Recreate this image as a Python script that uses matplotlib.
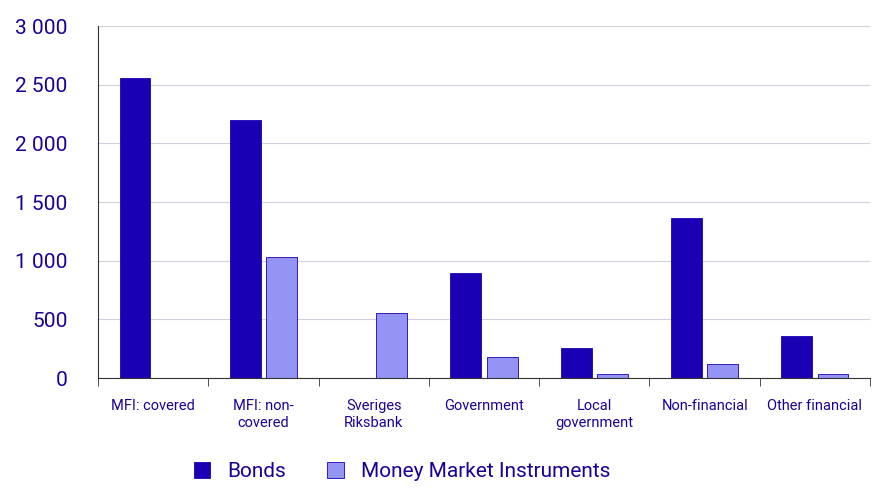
import matplotlib
matplotlib.use("Agg")
import matplotlib.pyplot as plt
import numpy as np

plt.rcParams["font.family"] = "Roboto"

categories = ["MFI: covered", "MFI: non-\ncovered", "Sveriges\nRiksbank", "Government", "Local\ngovernment", "Non-financial", "Other financial"]
bonds = [2560, 2200, 0, 895, 255, 1365, 360]
mmi = [0, 1030, 550, 180, 30, 120, 30]
yticks = [0, 500, 1000, 1500, 2000, 2500, 3000]
ylabels = ["0", "500", "1 000", "1 500", "2 000", "2 500", "3 000"]

dark = "#1a00b4"
light = "#9494f5"
txt = "#1a0096"

fig = plt.figure(figsize=(8.93, 5.0), dpi=100)
ax = fig.add_axes([98/893, 1-378/500, 772/893, 352/500])
x = np.arange(len(categories))
w = 0.28
ax.bar(x - 0.165, bonds, w, color=dark, edgecolor=dark, linewidth=0.6, label="Bonds")
ax.bar(x + 0.165, mmi, w, color=light, edgecolor=dark, linewidth=0.6, label="Money Market Instruments")
ax.set_xlim(-0.5, len(categories) - 0.5)
ax.set_ylim(0, 3000)
ax.set_yticks(yticks)
ax.set_yticklabels(ylabels, fontsize=15, color=txt)
ax.set_xticks(x)
ax.set_xticklabels(categories, fontsize=10.5, color=txt, linespacing=1.3)
ax.set_xticks(np.arange(-0.5, len(categories)), minor=True)
ax.tick_params(axis="x", which="major", length=0, pad=15)
ax.tick_params(axis="x", which="minor", length=6, color="#333333")
ax.tick_params(axis="y", length=0, pad=22)
for lab in ax.get_yticklabels():
    lab.set_horizontalalignment("right")
ax.grid(axis="y", color="#d0d0e0", linewidth=0.8)
ax.set_axisbelow(True)
for s in ["top", "right"]:
    ax.spines[s].set_visible(False)
ax.spines["left"].set_color("#333333")
ax.spines["bottom"].set_color("#333333")
fig.legend(loc="lower center", bbox_to_anchor=(0.45, 0.0), ncol=2, frameon=False,
           fontsize=15, labelcolor=txt, handlelength=0.8, handleheight=0.8, columnspacing=2)
fig.savefig("out.png", dpi=100)
